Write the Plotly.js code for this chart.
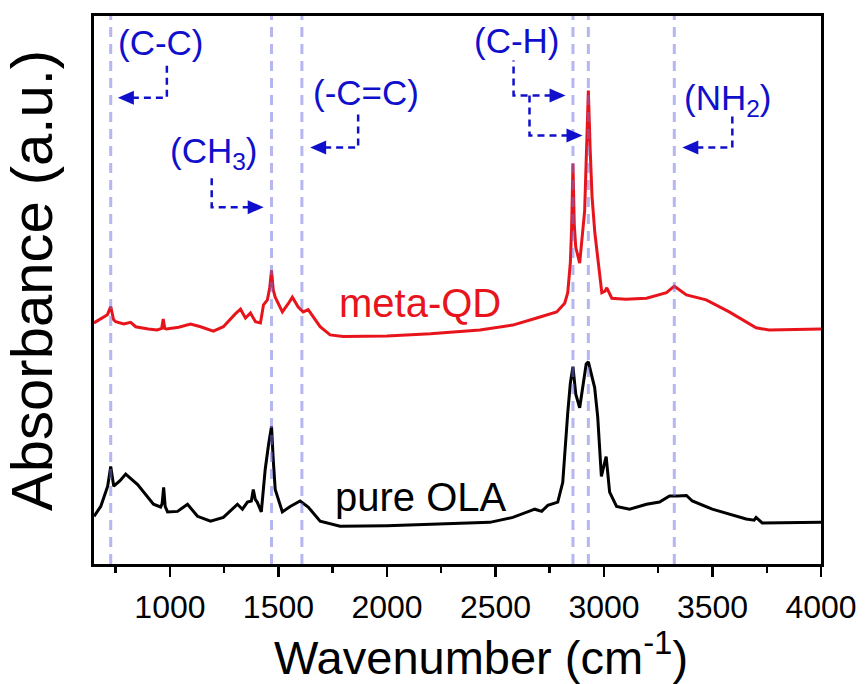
<!DOCTYPE html>
<html>
<head>
<meta charset="utf-8">
<script src="https://cdn.plot.ly/plotly-3.0.1.min.js"></script>
<style>html,body{margin:0;padding:0;background:#fff;}#chart{width:866px;height:684px;}</style>
</head>
<body>
<div id="chart"></div>
<script>
// ---- data ----
const metaQDWavenumber = [650, 690, 712, 727, 740, 750, 787, 819, 842, 900, 941, 962, 969, 976, 984, 1040, 1095, 1141, 1200, 1246, 1278, 1300, 1325, 1348, 1371, 1394, 1417, 1431, 1449, 1460, 1468, 1476, 1485, 1518, 1545, 1564, 1591, 1614, 1637, 1692, 1738, 1798, 2000, 2200, 2428, 2580, 2690, 2782, 2819, 2833, 2845, 2851, 2857, 2863, 2870, 2888, 2911, 2920, 2928, 2936, 2945, 2958, 2971, 2990, 3005, 3013, 3036, 3100, 3196, 3288, 3324, 3380, 3471, 3577, 3701, 3760, 4000];
const metaQDAbs = [44.0, 45.0, 45.5, 47.0, 44.6, 44.2, 43.8, 44.1, 43.3, 42.9, 42.7, 43.0, 44.7, 43.0, 42.9, 43.2, 43.8, 43.3, 42.5, 43.3, 44.7, 45.6, 46.5, 44.9, 45.8, 44.2, 44.0, 47.3, 48.2, 50.5, 53.6, 50.0, 48.7, 46.0, 47.5, 48.7, 46.9, 46.0, 46.4, 43.3, 41.8, 41.5, 41.6, 42.0, 42.7, 43.6, 44.9, 46.0, 47.6, 49.5, 55.0, 61.5, 73.1, 62.0, 57.8, 54.9, 64.5, 75.0, 86.4, 76.0, 67.0, 60.4, 55.5, 49.5, 49.8, 50.4, 48.5, 48.3, 48.5, 49.5, 50.7, 49.1, 48.2, 46.0, 43.1, 42.7, 42.9];

const olaWavenumber = [650, 681, 713, 727, 741, 770, 796, 851, 924, 957, 964, 971, 978, 989, 1035, 1081, 1127, 1187, 1246, 1311, 1334, 1357, 1375, 1384, 1393, 1402, 1421, 1439, 1455, 1468, 1476, 1485, 1518, 1554, 1600, 1637, 1692, 1784, 2000, 2200, 2474, 2580, 2681, 2713, 2741, 2787, 2810, 2833, 2845, 2857, 2870, 2888, 2905, 2918, 2928, 2945, 2957, 2971, 2988, 3003, 3010, 3026, 3058, 3118, 3196, 3256, 3302, 3340, 3380, 3407, 3499, 3655, 3692, 3701, 3729, 4000];
const olaAbs = [8.7, 10.5, 14.2, 17.8, 14.2, 15.2, 16.4, 14.5, 10.9, 10.4, 11.0, 14.0, 10.5, 9.5, 9.6, 10.9, 8.7, 7.8, 8.5, 10.9, 10.0, 11.3, 11.5, 13.6, 11.8, 11.3, 9.5, 17.3, 22.0, 25.1, 19.0, 13.6, 9.5, 10.5, 11.5, 10.4, 7.8, 6.9, 7.0, 7.2, 7.6, 8.5, 10.0, 9.6, 10.7, 11.3, 14.9, 27.6, 33.0, 36.0, 31.0, 28.5, 33.0, 36.5, 36.9, 34.0, 32.2, 26.9, 16.0, 18.5, 19.6, 13.1, 10.5, 10.0, 10.9, 11.3, 12.4, 12.4, 12.5, 11.5, 10.0, 8.2, 8.0, 8.5, 7.5, 7.6];

const seriesNames = ["meta-QD", "pure OLA"];
const bandWavenumbers = [727, 1468, 1608, 2857, 2928, 3324];
const bandLabels = ["(C-C)", "(CH<sub>3</sub>)", "(-C=C)", "(C-H)", "(NH<sub>2</sub>)"];
const bandLabelWn = [957, 1205, 1904, 2598, 3573];
const bandLabelY = [95.1, 75.0, 86.0, 95.6, 84.6];
const xTickVals = [1000, 1500, 2000, 2500, 3000, 3500, 4000];
const xTitle = 'Wavenumber (cm<sup>-1</sup>)';
const yTitle = 'Absorbance (a.u.)';

// ---- callout arrows (tip in data coords, geometry in px) ----
const arrowTipWn = [760, 1432, 1646, 2823, 2901, 3361];
const arrowTipY = [85.1, 65.1, 76.0, 85.5, 78.2, 76.0];
const arrowDir = [-1, 1, -1, 1, 1, -1];
const arrowRun = [49, 52, 48, 52, 53, 50];
const arrowRise = [35, 34, 34, 35, 40, 34];

const FONT = 'Liberation Sans, Arial, sans-serif';
const BLUE = '#1010cc';
const shapes = [];
bandWavenumbers.forEach(w => shapes.push({
  type: 'line', xref: 'x', yref: 'paper', x0: w, x1: w, y0: 0, y1: 1, layer: 'above',
  line: {color: 'rgba(110,110,225,0.5)', width: 3, dash: '10px,7px'}
}));
arrowTipWn.forEach((w, i) => {
  const d = arrowDir[i], run = arrowRun[i], rise = arrowRise[i];
  shapes.push({
    type: 'path', xref: 'x', yref: 'y', xsizemode: 'pixel', ysizemode: 'pixel',
    xanchor: w, yanchor: arrowTipY[i],
    path: `M${-d*14},0 L${-d*run},0 L${-d*run},${rise}`,
    line: {color: BLUE, width: 2.5, dash: '7px,5px'}
  });
  shapes.push({
    type: 'path', xref: 'x', yref: 'y', xsizemode: 'pixel', ysizemode: 'pixel',
    xanchor: w, yanchor: arrowTipY[i],
    path: `M0,0 L${-d*16},7 L${-d*16},-7 Z`,
    fillcolor: BLUE, line: {width: 0}
  });
});

const annotations = bandLabels.map((t, i) => ({
  x: bandLabelWn[i], y: bandLabelY[i], xref: 'x', yref: 'y', text: t, showarrow: false,
  font: {family: FONT, size: 35, color: BLUE},
  xanchor: 'center', yanchor: 'middle'
}));
annotations.push({x: 2152, y: 47.6, xref: 'x', yref: 'y', text: seriesNames[0], showarrow: false,
  font: {family: FONT, size: 40, color: '#e8141c'}});
annotations.push({x: 2157, y: 12.3, xref: 'x', yref: 'y', text: seriesNames[1], showarrow: false,
  font: {family: FONT, size: 40, color: '#000'}});
// axis titles
annotations.push({x: 0.532, y: -0.165, xref: 'paper', yref: 'paper', text: xTitle, showarrow: false,
  xanchor: 'center', yanchor: 'middle', font: {family: FONT, size: 47, color: '#000'}});
annotations.push({x: -0.087, y: 0.518, xref: 'paper', yref: 'paper', text: yTitle, showarrow: false,
  textangle: -90, xanchor: 'center', yanchor: 'middle', font: {family: FONT, size: 58, color: '#000'}});

const traces = [
  {x: olaWavenumber, y: olaAbs, name: seriesNames[1], mode: 'lines', line: {color: '#000', width: 3}},
  {x: metaQDWavenumber, y: metaQDAbs, name: seriesNames[0], mode: 'lines', line: {color: '#e8141c', width: 3}}
];

const layout = {
  width: 866, height: 684,
  paper_bgcolor: '#fff', plot_bgcolor: '#fff',
  margin: {l: 94, r: 45, t: 16, b: 120},
  showlegend: false,
  font: {family: FONT, color: '#000'},
  xaxis: {
    range: [650, 4000], tickvals: xTickVals, ticks: 'outside', ticklen: 10, tickwidth: 2.5, tickcolor: '#000',
    ticklabelstandoff: 3,
    minor: {dtick: 250, tick0: 0, ticks: 'outside', ticklen: 6, tickwidth: 2.5, tickcolor: '#000'},
    showline: true, linecolor: '#000', linewidth: 3, mirror: true, showgrid: false, zeroline: false,
    tickfont: {size: 32, family: FONT}
  },
  yaxis: {
    range: [0, 100], showticklabels: false, ticks: '',
    showline: true, linecolor: '#000', linewidth: 3, mirror: true, showgrid: false, zeroline: false
  },
  shapes: shapes,
  annotations: annotations
};

Plotly.newPlot('chart', traces, layout, {displayModeBar: false, staticPlot: true});
</script>
</body>
</html>
